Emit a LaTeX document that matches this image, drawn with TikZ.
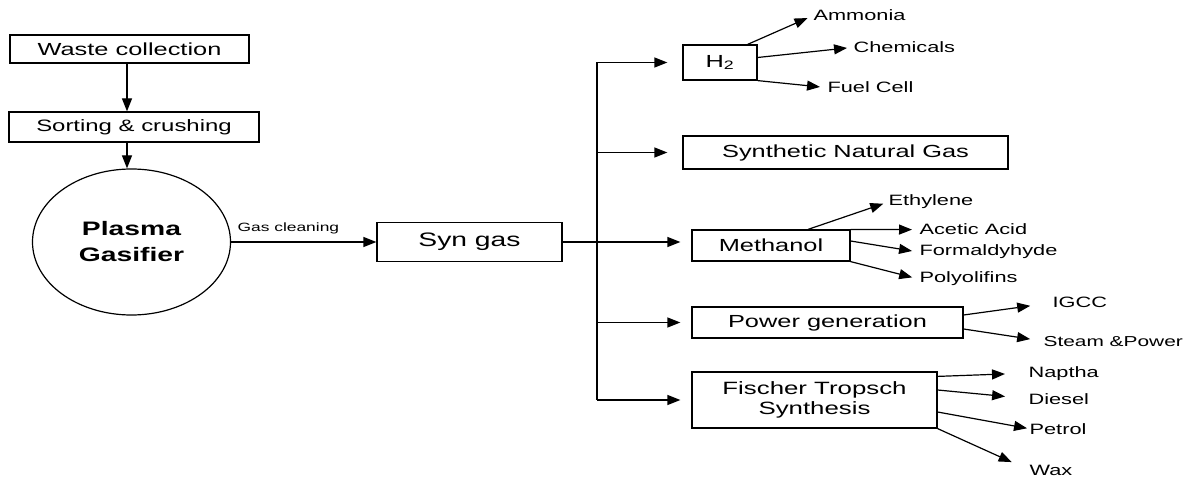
\documentclass[tikz,border=0pt]{standalone}
\usepackage{fontspec}
\setmainfont[FakeStretch=1.45]{Liberation Sans}
\usetikzlibrary{arrows.meta, shapes.geometric}

\begin{document}
\begin{tikzpicture}[x=1pt, y=-1pt,
        >={Triangle[length=13pt, width=10pt]},
        line width=1.2pt,
        b/.style={draw, line width=1.2pt, inner sep=0pt, align=center,
          font=\fontsize{17.5}{21}\selectfont},
        prod/.style={inner sep=0pt, anchor=base west,
          font=\fontsize{15}{18}\selectfont}]

      \useasboundingbox (0,0) rectangle (1186,478);

      % feed
      \node[b, minimum width=239, minimum height=28] (waste) at (129.5,49) {Waste collection};
      \node[b, minimum width=250, minimum height=30, font=\fontsize{16.5}{20}\selectfont]
        (sort) at (134,127) {Sorting \& crushing};
      \node[b, ellipse, minimum width=198, minimum height=146,
        font=\fontsize{19.5}{26}\selectfont\bfseries] (gasifier) at (131.5,242) {Plasma\\Gasifier};
      \draw[->] (waste.south -| 127,0) -- (sort.north -| 127,0);
      \draw[->] (sort.south -| 127,0) -- (gasifier.north -| 127,0);

      % syn gas
      \node[b, minimum width=185, minimum height=39, font=\fontsize{19.5}{23}\selectfont]
        (syngas) at (469.5,242) {Syn gas};
      \draw[->] (gasifier.east) -- (syngas.west);
      \node[inner sep=0pt, anchor=base west, font=\fontsize{12}{14}\selectfont]
        (cleaning) at (237,232) {Gas cleaning};

      % products
      \node[b, minimum width=74, minimum height=35] (h2) at (720,62.5) {H\textsubscript{2}};
      \node[b, minimum width=325, minimum height=33] (sng) at (845.5,152.5) {Synthetic Natural Gas};
      \node[b, minimum width=158, minimum height=31] (methanol) at (771,245.5) {Methanol};
      \node[b, minimum width=271, minimum height=31] (power) at (827.5,322.5) {Power generation};
      \node[b, minimum width=245, minimum height=56, font=\fontsize{17.8}{20.5}\selectfont]
        (ft) at (814.5,400) {Fischer Tropsch\\Synthesis};

      \coordinate (trunk) at (597,0);
      \draw (trunk |- h2.west) -- (trunk |- ft.west);
      \draw (syngas.east) -- (trunk |- syngas.east);
      \draw[->, shorten >=15pt] (trunk |- h2.west) -- (h2.west);
      \draw[->, shorten >=15pt] (trunk |- sng.west) -- (sng.west);
      \draw[->, shorten >=11pt] (trunk |- syngas.east) -- (methanol.west |- syngas.east);
      \draw[->, shorten >=11pt] (trunk |- power.west) -- (power.west);
      \draw[->, shorten >=11pt] (trunk |- ft.west) -- (ft.west);

      % H2
      \node[prod] (ammonia) at (813,21) {Ammonia};
      \node[prod] (chem) at (853,52.7) {Chemicals};
      \node[prod] (fuel) at (827,93) {Fuel Cell};
      \draw[->, shorten >=6pt] ([xshift=-10pt]h2.north east) -- (ammonia.west);
      \draw[->, shorten >=6pt] ([yshift=5pt]h2.east) -- (chem.west);
      \draw[->, shorten >=7pt] (h2.south east) -- (fuel.west);

      % methanol
      \node[prod] (ethylene) at (888,206) {Ethylene};
      \node[prod] (acetic) at (919,235) {Acetic Acid};
      \node[prod] (formal) at (919,256) {Formaldyhyde};
      \node[prod] (poly) at (919,283) {Polyolifins};
      \draw[->, shorten >=5pt] ([xshift=37pt]methanol.north) -- (ethylene.west);
      \draw[->, shorten >=7pt] (methanol.north east) -- (acetic.west);
      \draw[->, shorten >=7pt] ([yshift=4.5pt]methanol.east) -- (formal.west);
      \draw[->, shorten >=7pt] (methanol.south east) -- (poly.west);

      % power
      \node[prod] (igcc) at (1052,308) {IGCC};
      \node[prod, font=\fontsize{14.4}{17}\selectfont] (steam) at (1043,346) {Steam \&Power};
      \draw[->, shorten >=22pt] ([yshift=7.5pt]power.east) -- (igcc.west);
      \draw[->, shorten >=13pt] ([yshift=-6.5pt]power.east) -- (steam.west);

      % FT
      \node[prod] (naptha) at (1028,377) {Naptha};
      \node[prod] (diesel) at (1028,404) {Diesel};
      \node[prod] (petrol) at (1029,434) {Petrol};
      \node[prod] (wax) at (1029,475) {Wax};
      \draw[->, shorten >=23pt] ([yshift=-5pt]ft.north east) -- (naptha.west);
      \draw[->, shorten >=23pt] ([yshift=10pt]ft.east) -- (diesel.west);
      \draw[->, shorten >=2pt] ([yshift=-12pt]ft.east) -- (petrol.west);
      \draw[->, shorten >=19pt] (ft.south east) -- (wax.west);
    \end{tikzpicture}
\end{document}
